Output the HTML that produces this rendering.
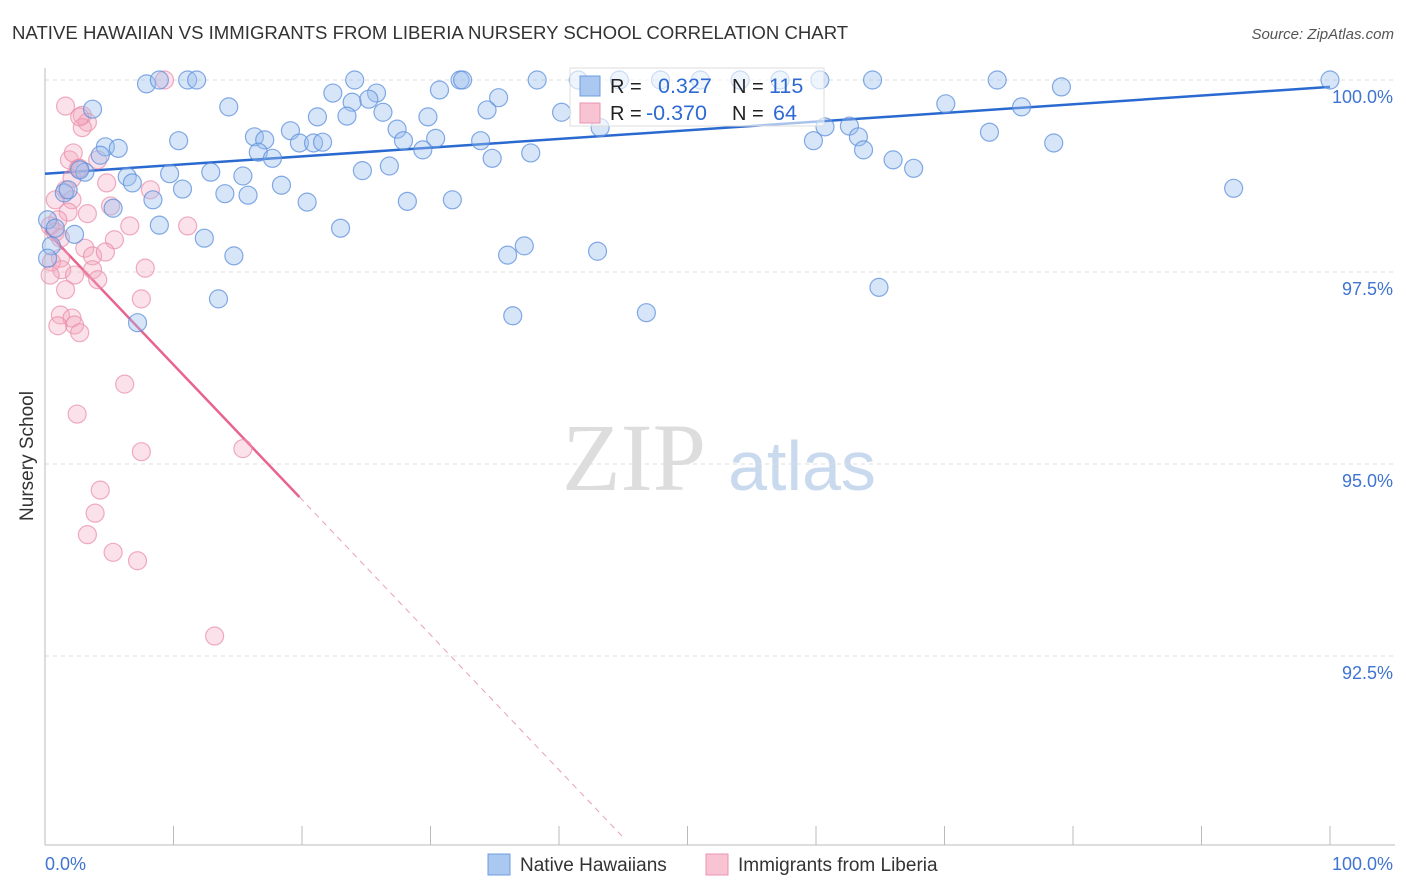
<!DOCTYPE html>
<html><head><meta charset="utf-8"><style>
body{margin:0;background:#fff;font-family:"Liberation Sans",sans-serif}
svg{display:block}
</style></head><body>
<svg id="chart" width="1406" height="892">
<text x="12" y="39" font-size="18.6" fill="#333">NATIVE HAWAIIAN VS IMMIGRANTS FROM LIBERIA NURSERY SCHOOL CORRELATION CHART</text>
<text x="1394" y="39" font-size="15" fill="#555" font-style="italic" text-anchor="end">Source: ZipAtlas.com</text>
<text x="33" y="456" font-size="19" fill="#333" text-anchor="middle" transform="rotate(-90 33 456)">Nursery School</text>
<g><text x="634" y="490" font-size="96" font-family="Liberation Serif,serif" fill="#ddd" text-anchor="middle">ZIP</text><text x="802" y="490" font-size="70" fill="#c9d9ee" text-anchor="middle">atlas</text></g>
<g id="grid"></g><g id="axes"></g><g id="trend"></g><g id="pts"></g>
<g>
<rect x="570" y="68" width="254" height="58" fill="#fff" fill-opacity="0.6" stroke="#ddd"/>
<rect x="580" y="76" width="20" height="20" fill="#aac8f0" stroke="#6d9ce0"/>
<rect x="580" y="103" width="20" height="20" fill="#f8c3d2" stroke="#e996b0"/>
<text x="610" y="93" font-size="20" fill="#222">R = </text><text x="658" y="93" font-size="21.5" fill="#2e6ad1">0.327</text>
<text x="732" y="93" font-size="20" fill="#222">N = </text><text x="769" y="93" font-size="21.5" fill="#2e6ad1">115</text>
<text x="610" y="120" font-size="20" fill="#222">R = </text><text x="646" y="120" font-size="21.5" fill="#2e6ad1">-0.370</text>
<text x="732" y="120" font-size="20" fill="#222">N = </text><text x="773" y="120" font-size="21.5" fill="#2e6ad1">64</text>
</g>
<g>
<rect x="488" y="854" width="22" height="21" fill="#aac8f0" stroke="#6d9ce0"/>
<text x="520" y="871" font-size="19" fill="#333">Native Hawaiians</text>
<rect x="706" y="854" width="22" height="21" fill="#f8c3d2" stroke="#e996b0"/>
<text x="738" y="871" font-size="19" fill="#333">Immigrants from Liberia</text>
</g>
</svg>
<script>
const blueX=[7.9,8.9,11.1,11.8,24.1,32.3,32.5,38.3,41.5,44.7,47.9,51.0,54.1,57.2,60.3,64.4,74.1,100,79.1,22.4,25.8,30.7,3.7,14.3,23.9,25.2,35.3,70.1,76.0,34.4,23.5,26.3,29.8,21.2,40.2,10.4,16.3,19.1,19.8,20.9,21.6,27.4,27.9,30.4,33.9,29.4,4.7,5.7,4.3,17.1,16.6,17.7,34.8,37.8,43.2,60.7,62.6,59.8,63.3,63.7,66.0,67.6,73.5,78.5,92.5,9.7,12.9,15.4,6.4,6.8,10.7,14.0,15.8,18.4,24.7,26.8,20.4,28.2,31.7,3.1,2.7,8.4,5.3,1.5,8.9,23.0,12.4,2.3,0.5,14.7,36.0,37.3,43.0,64.9,13.5,36.4,46.8,7.2,1.8,0.2,0.8,0.2];
const blueY=[99.95,100,100,100,100,100,100,100,100,100,100,100,100,100,100,100,100,100,99.91,99.83,99.83,99.87,99.62,99.65,99.71,99.75,99.77,99.69,99.65,99.61,99.53,99.58,99.52,99.52,99.58,99.21,99.26,99.34,99.18,99.18,99.19,99.36,99.21,99.24,99.21,99.09,99.13,99.11,99.02,99.22,99.06,98.98,98.98,99.05,99.38,99.39,99.40,99.21,99.26,99.09,98.96,98.85,99.32,99.18,98.59,98.78,98.80,98.75,98.74,98.66,98.58,98.52,98.50,98.63,98.82,98.88,98.41,98.42,98.44,98.80,98.83,98.44,98.33,98.53,98.11,98.07,97.94,97.99,97.84,97.71,97.72,97.84,97.77,97.30,97.15,96.93,96.97,96.84,98.57,98.18,98.07,97.68];
const pinkX=[9.3,1.6,2.9,3.3,2.9,2.7,1.9,2.6,2.2,4.1,2.1,4.8,2.7,8.2,1.6,2.1,0.8,5.1,1.8,3.3,1.0,0.4,0.8,1.2,11.1,6.6,5.4,3.1,3.7,1.2,0.5,4.7,1.3,2.3,3.7,4.1,0.4,7.8,1.6,7.5,1.2,2.1,2.3,2.7,1.0,6.2,2.5,7.5,15.4,4.3,3.9,3.3,5.3,7.2,13.2];
const pinkY=[100,99.66,99.54,99.45,99.38,99.52,98.96,98.85,99.05,98.96,98.72,98.66,98.85,98.57,98.57,98.44,98.44,98.36,98.28,98.26,98.18,98.10,98.02,97.94,98.10,98.10,97.92,97.81,97.71,97.68,97.63,97.76,97.53,97.46,97.53,97.40,97.46,97.55,97.27,97.15,96.94,96.90,96.81,96.71,96.80,96.04,95.65,95.16,95.20,94.66,94.36,94.08,93.85,93.74,92.76];
const yTicks=[100,97.5,95,92.5];
const yTickLabels=["100.0%","97.5%","95.0%","92.5%"];
const xTicks=[0,10,20,30,40,50,60,70,80,90,100];
const blueTrend=[[0,98.78],[100,99.91]];
const pinkTrend=[[0,98.05],[19.8,94.57],[45.1,90.12]];

const NS="http://www.w3.org/2000/svg";
const X=v=>45+v*12.85, Y=v=>80+(100-v)*76.8;
function mk(t,a,p){const e=document.createElementNS(NS,t);for(const k in a)e.setAttribute(k,a[k]);p.appendChild(e);return e;}
const grid=document.getElementById('grid'),axes=document.getElementById('axes'),trend=document.getElementById('trend'),pts=document.getElementById('pts');
yTicks.forEach((t,i)=>{
  const l=mk('line',{x1:45,x2:1395,y1:Y(t),y2:Y(t),stroke:'#ddd','stroke-dasharray':'4,4'},grid);
  
  
  const tx=mk('text',{x:1393,y:Y(t)+23,'font-size':18,fill:'#3f74d0','text-anchor':'end'},axes);
  tx.textContent=yTickLabels[i];
  
  
});
const ya=mk('line',{x1:45,x2:45,y1:68,y2:845,stroke:'#bbb'},axes);


const xa=mk('line',{x1:45,x2:1395,y1:845,y2:845,stroke:'#bbb'},axes);


xTicks.forEach(t=>{
  const l=mk('line',{x1:X(t),x2:X(t),y1:826,y2:845,stroke:'#bbb'},axes);
  
  
});
[[0,'0.0%','start',45],[100,'100.0%','end',1393]].forEach(d=>{
  const tx=mk('text',{x:d[3],y:870,'font-size':18,fill:'#3f74d0','text-anchor':d[2]},axes);
  tx.textContent=d[1];
  
  
});
pinkX.forEach((x,i)=>{
  const c=mk('circle',{cx:X(x),cy:Y(pinkY[i]),r:9,fill:'#f4a9c0','fill-opacity':0.35,stroke:'#e98aa8','stroke-opacity':0.7,'stroke-width':1.2},pts);
  
  
});
blueX.forEach((x,i)=>{
  const c=mk('circle',{cx:X(x),cy:Y(blueY[i]),r:9,fill:'#9bbfee','fill-opacity':0.4,stroke:'#5b8fdc','stroke-opacity':0.75,'stroke-width':1.2},pts);
  
  
});
const bt=mk('line',{x1:X(blueTrend[0][0]),y1:Y(blueTrend[0][1]),x2:X(blueTrend[1][0]),y2:Y(blueTrend[1][1]),stroke:'#2a6ad0','stroke-width':2.5},trend);


const pt=mk('line',{x1:X(pinkTrend[0][0]),y1:Y(pinkTrend[0][1]),x2:X(pinkTrend[1][0]),y2:Y(pinkTrend[1][1]),stroke:'#e8638e','stroke-width':2.5},trend);


const pd=mk('line',{x1:X(pinkTrend[1][0]),y1:Y(pinkTrend[1][1]),x2:X(pinkTrend[2][0]),y2:Y(pinkTrend[2][1]),stroke:'#e8a0b8','stroke-width':1,'stroke-dasharray':'6,5'},trend);


</script>
</body></html>
